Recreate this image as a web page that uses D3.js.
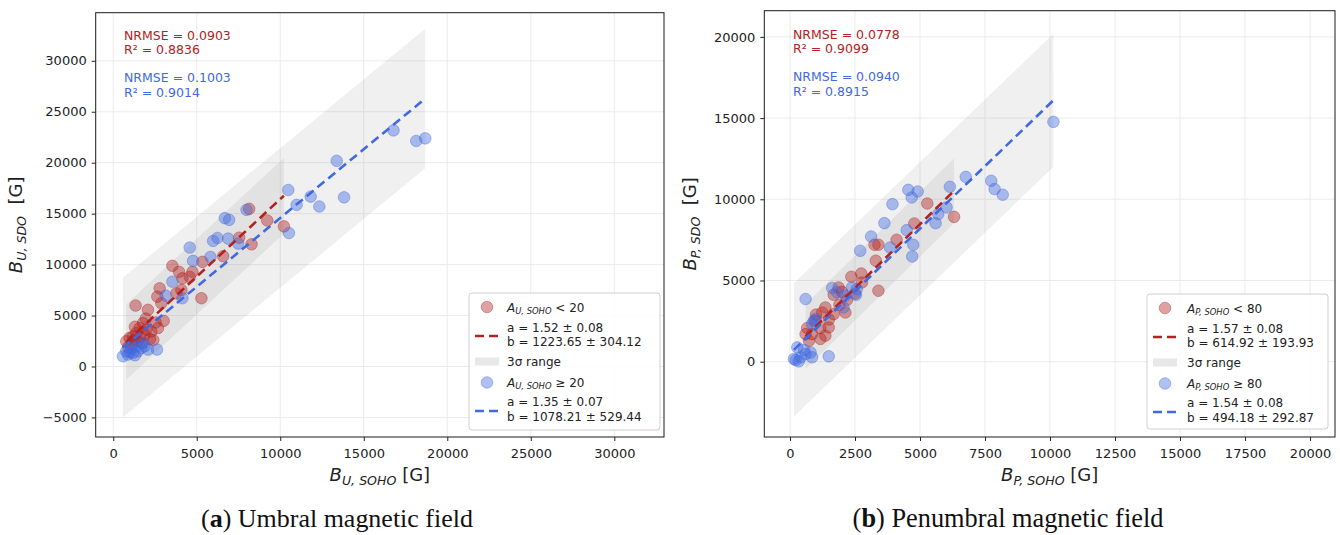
<!DOCTYPE html>
<html><head><meta charset="utf-8">
<script src="https://cdn.jsdelivr.net/npm/d3@7"></script>
<style>body{margin:0;background:#fff}svg{display:block}</style>
</head><body>
<svg id="chart" width="1340" height="535"></svg>
<script>
// ---------------- DATA ----------------
// (a) Umbral: [B_U,SOHO, B_U,SDO]
const umbralSmall = [[8140,15470],[9220,14330],[10220,13750],[8280,11990],[7540,12640],[6580,10820],[5340,10270],[4740,9290],[3940,9290],[3540,9880],[4140,8650],[4580,8800],[2780,7670],[5280,6700],[4080,7510],[3780,7180],[2640,6860],[2880,6210],[1340,5980],[2080,5560],[3020,4480],[2680,3770],[2280,3440],[1780,4260],[1580,3770],[1380,3280],[980,2800],[780,2470],[1180,2960],[1880,3120],[1480,2470],[1980,3610],[2540,4320],[1100,2200],[1600,2900],[2200,2700],[1300,3900],[900,1900],[1700,2300],[2400,2600],[1950,4700],[1250,2600]];
const umbralLarge = [[16780,23170],[18140,22130],[18680,22390],[13380,20180],[10480,17320],[11820,16670],[10980,15860],[12340,15700],[13820,16600],[10520,13100],[7980,15370],[6680,14560],[6940,14390],[5980,12320],[6240,12610],[6880,12550],[7480,12060],[4580,11670],[4780,10360],[5820,10750],[3540,8320],[3140,6950],[4140,6700],[2620,1660],[580,1000],[880,1170],[1180,1330],[1480,1490],[1680,1820],[1380,1980],[1880,1980],[1080,1820],[780,1490],[2080,1660],[1780,2310],[1000,1400],[1300,1100]];
// (b) Penumbral: [B_P,SOHO, B_P,SDO]
const penumbralSmall = [[5280,9740],[6310,8920],[4780,8510],[4100,7510],[3250,7200],[3400,7200],[3300,6220],[3400,4370],[2740,5430],[2360,5230],[2770,4880],[1870,4570],[2190,3800],[1680,4120],[1360,3340],[1240,3030],[1680,2930],[2130,3030],[980,2520],[660,2070],[1170,2070],[1490,2110],[850,1700],[1170,1400],[1360,1600],[730,1290],[1900,3500],[2500,4200],[1000,2900],[1500,2600],[600,1700],[2000,4300]];
const penumbralLarge = [[10130,14770],[6760,11380],[7740,11140],[7870,10630],[8180,10280],[6150,10770],[4550,10580],[4910,10480],[4680,10110],[3940,9700],[6020,9500],[5700,9090],[5600,8530],[3630,8530],[4490,8100],[4740,7200],[4700,6480],[3120,7710],[3850,7030],[2700,6830],[1620,4540],[1810,4270],[2130,4060],[2540,4120],[2380,4570],[600,3860],[1490,330],[920,2520],[220,100],[410,270],[600,470],[790,570],[540,720],[280,880],[850,270],[150,170],[340,20],[2570,4470],[2060,3340],[980,2630],[850,2320]];

// fits: [slope, intercept, 3 sigma]
const umbralSmallFit = [1.52, 1223.65, 3710];
const umbralLargeFit = [1.35, 1078.21, 6850];
const penumbralSmallFit = [1.57, 614.92, 2000];
const penumbralLargeFit = [1.54, 494.18, 4100];

const umbralXTicks = [0,5000,10000,15000,20000,25000,30000];
const umbralYTicks = [-5000,0,5000,10000,15000,20000,25000,30000];
const penumbralXTicks = [0,2500,5000,7500,10000,12500,15000,17500,20000];
const penumbralYTicks = [0,5000,10000,15000,20000];

const umbralStats = ["NRMSE = 0.0903","R² = 0.8836","NRMSE = 0.1003","R² = 0.9014"];
const penumbralStats = ["NRMSE = 0.0778","R² = 0.9099","NRMSE = 0.0940","R² = 0.8915"];
const umbralLegend = ["U, SOHO"," < 20","a = 1.52 ± 0.08","b = 1223.65 ± 304.12","3σ range"," ≥ 20","a = 1.35 ± 0.07","b = 1078.21 ± 529.44"];
const penumbralLegend = ["P, SOHO"," < 80","a = 1.57 ± 0.08","b = 614.92 ± 193.93","3σ range"," ≥ 80","a = 1.54 ± 0.08","b = 494.18 ± 292.87"];

// ---------------- DRAWING ----------------
const RED = "#b22222", BLUE = "#4169e1";
const FONT = "DejaVu Sans, Verdana, sans-serif";
const R = 5.8;
const svg = d3.select("#chart");

function mathText(t, base, sub, rest, fs) {
  t.append("tspan").attr("font-style","italic").text(base);
  t.append("tspan").attr("font-style","italic").attr("font-size", fs*0.7).attr("dy", fs*0.22).text(sub);
  t.append("tspan").attr("dy", -fs*0.22).text(rest);
}

function panel(c) {
  const g = svg.append("g");
  const x = d3.scaleLinear().domain(c.xDom).range([c.fx0, c.fx1]);
  const y = d3.scaleLinear().domain(c.yDom).range([c.fy1, c.fy0]);

  // grid
  g.append("g").selectAll("line").data(c.xTicks).join("line")
    .attr("x1", d=>x(d)).attr("x2", d=>x(d)).attr("y1", c.fy0).attr("y2", c.fy1)
    .attr("stroke","#e9e9e9").attr("stroke-width",0.9);
  g.append("g").selectAll("line").data(c.yTicks).join("line")
    .attr("y1", d=>y(d)).attr("y2", d=>y(d)).attr("x1", c.fx0).attr("x2", c.fx1)
    .attr("stroke","#e9e9e9").attr("stroke-width",0.9);

  // bands (3 sigma)
  const band = (pts, fit) => {
    const xs = pts.map(p=>p[0]);
    const lo = d3.min(xs), hi = d3.max(xs);
    const [a,b,s] = fit;
    const poly = [[lo,a*lo+b+s],[hi,a*hi+b+s],[hi,a*hi+b-s],[lo,a*lo+b-s]];
    g.append("path").attr("d", "M" + poly.map(p=>x(p[0])+","+y(p[1])).join("L") + "Z")
      .attr("fill","#808080").attr("fill-opacity",0.12);
  };
  band(c.large, c.largeFit);
  band(c.small, c.smallFit);

  // points
  const pts = (data, col) => g.append("g").selectAll("circle").data(data).join("circle")
    .attr("cx", d=>x(d[0])).attr("cy", d=>y(d[1])).attr("r",R)
    .attr("fill", col).attr("fill-opacity",0.42)
    .attr("stroke", col).attr("stroke-opacity",0.45).attr("stroke-width",0.9);
  pts(c.small, RED);
  pts(c.large, BLUE);

  // fit lines
  const fitLine = (data, fit, col) => {
    const xs = data.map(p=>p[0]);
    const lo = d3.min(xs), hi = d3.max(xs);
    g.append("line").attr("x1", x(lo)).attr("y1", y(fit[0]*lo+fit[1]))
      .attr("x2", x(hi)).attr("y2", y(fit[0]*hi+fit[1]))
      .attr("stroke", col).attr("stroke-width",2.6).attr("stroke-dasharray","9,5");
  };
  fitLine(c.small, c.smallFit, RED);
  fitLine(c.large, c.largeFit, BLUE);

  // frame
  g.append("rect").attr("x",c.fx0).attr("y",c.fy0).attr("width",c.fx1-c.fx0).attr("height",c.fy1-c.fy0)
    .attr("fill","none").attr("stroke","#1a1a1a").attr("stroke-width",1);

  // axes
  const ax = g.append("g").attr("transform",`translate(0,${c.fy1})`)
    .call(d3.axisBottom(x).tickValues(c.xTicks).tickFormat(d3.format("d")).tickSize(4).tickPadding(5));
  const ay = g.append("g").attr("transform",`translate(${c.fx0},0)`)
    .call(d3.axisLeft(y).tickValues(c.yTicks).tickFormat(d3.format("d")).tickSize(4).tickPadding(5));
  [ax, ay].forEach(a => {
    a.select(".domain").remove();
    a.selectAll("line").attr("stroke","#222");
    a.selectAll("text").attr("font-family",FONT).attr("font-size",13).attr("fill","#222");
  });
  ax.selectAll("text").attr("dy","0.95em");

  // axis titles
  const xt = g.append("text").attr("x",(c.fx0+c.fx1)/2).attr("y",481).attr("text-anchor","middle")
    .attr("font-family",FONT).attr("font-size",18).attr("fill","#222");
  mathText(xt, "B", c.xSub, " [G]", 18);
  const yt = g.append("text").attr("transform",`translate(${c.ylx},${(c.fy0+c.fy1)/2}) rotate(-90)`)
    .attr("text-anchor","middle").attr("font-family",FONT).attr("font-size",18).attr("fill","#222")
    .attr("xml:space","preserve");
  mathText(yt, "B", c.ySub, "  [G]", 18);

  // stats
  const st = c.stats;
  [[0,RED,c.sy],[1,RED,c.sy+14.5],[2,BLUE,c.sy+42.5],[3,BLUE,c.sy+57]].forEach(([i,col,yy])=>{
    g.append("text").attr("x",c.sx).attr("y",yy).attr("font-family",FONT).attr("font-size",12.5)
      .attr("fill",col).text(st[i]);
  });

  // legend
  const L = c.leg, lg = c.legend;
  g.append("rect").attr("x",L.x0).attr("y",L.y0).attr("width",L.x1-L.x0).attr("height",L.y1-L.y0)
    .attr("rx",3).attr("fill","#fff").attr("fill-opacity",0.85).attr("stroke","#d0d0d0").attr("stroke-width",1);
  const hx = L.hx, tx = L.tx, fs = 12;
  const lt = (yy) => g.append("text").attr("x",tx).attr("y",yy).attr("font-family",FONT).attr("font-size",fs).attr("fill","#222");
  const mk = (yy,col) => g.append("circle").attr("cx",hx).attr("cy",yy).attr("r",R)
    .attr("fill",col).attr("fill-opacity",0.42).attr("stroke",col).attr("stroke-opacity",0.45).attr("stroke-width",0.9);
  const dl = (yy,col) => g.append("line").attr("x1",hx-12).attr("x2",hx+12).attr("y1",yy).attr("y2",yy)
    .attr("stroke",col).attr("stroke-width",2.6).attr("stroke-dasharray","9,5");
  const b0 = L.y0;
  mk(b0+14, RED); mathText(lt(b0+18.5), "A", lg[0], lg[1], fs);
  dl(b0+43, RED); lt(b0+38.5).text(lg[2]); lt(b0+53).text(lg[3]);
  g.append("rect").attr("x",hx-12).attr("y",b0+64.5).attr("width",24).attr("height",8).attr("fill","#e8e8e8");
  lt(b0+73).text(lg[4]);
  mk(b0+89.5, BLUE); mathText(lt(b0+93.5), "A", lg[0], lg[5], fs);
  dl(b0+118, BLUE); lt(b0+113).text(lg[6]); lt(b0+128).text(lg[7]);

  // caption
  const cap = svg.append("text").attr("x",c.capX).attr("y",527).attr("text-anchor","middle")
    .attr("font-family","Liberation Serif, Times New Roman, serif").attr("font-size",23).attr("fill","#111");
  cap.append("tspan").text("(");
  cap.append("tspan").attr("font-weight","bold").text(c.capLetter);
  cap.append("tspan").text(") " + c.capText);
  const w = cap.node().getComputedTextLength();
  cap.attr("font-size", 23 * c.capW / w);
}

panel({
  fx0:95.7, fx1:664, fy0:12.7, fy1:437,
  xDom:[-1050, 32975], yDom:[-6920, 34720],
  xTicks:umbralXTicks, yTicks:umbralYTicks,
  small:umbralSmall, large:umbralLarge, smallFit:umbralSmallFit, largeFit:umbralLargeFit,
  xSub:"U, SOHO", ySub:"U, SDO", ylx:22,
  stats:umbralStats, sx:124, sy:39.5,
  legend:umbralLegend, leg:{x0:469,y0:293,x1:660,y1:430,hx:487,tx:507},
  capX:337, capW:272, capLetter:"a", capText:"Umbral magnetic field"
});
panel({
  fx0:764.3, fx1:1335, fy0:10.7, fy1:437,
  xDom:[-988, 20960], yDom:[-4637, 21613],
  xTicks:penumbralXTicks, yTicks:penumbralYTicks,
  small:penumbralSmall, large:penumbralLarge, smallFit:penumbralSmallFit, largeFit:penumbralLargeFit,
  xSub:"P, SOHO", ySub:"P, SDO", ylx:696,
  stats:penumbralStats, sx:793, sy:38.5,
  legend:penumbralLegend, leg:{x0:1147,y0:294,x1:1328,y1:429,hx:1165,tx:1187},
  capX:1008, capW:311, capLetter:"b", capText:"Penumbral magnetic field"
});
</script>
</body></html>
